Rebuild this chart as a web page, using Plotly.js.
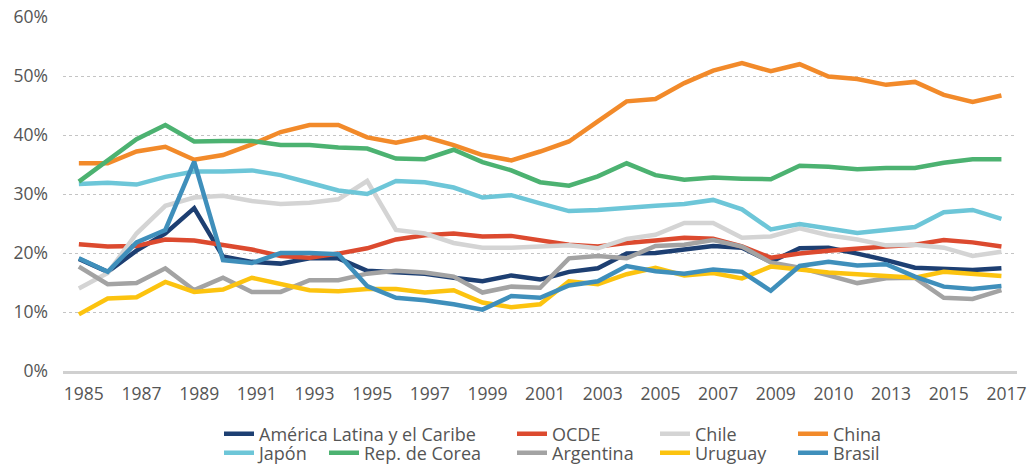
<!DOCTYPE html>
<html>
<head>
<meta charset="utf-8">
<script src="https://cdn.plot.ly/plotly-3.0.1.min.js"></script>
<style>html,body{margin:0;padding:0;background:#fff;}#chart{width:1033px;height:467px;}</style>
</head>
<body>
<div id="chart"></div>
<script>
// ---- data ----
const years = [1985,1986,1987,1988,1989,1990,1991,1992,1993,1994,1995,1996,1997,1998,1999,2000,2001,2002,2003,2004,2005,2006,2007,2008,2009,2010,2011,2012,2013,2014,2015,2016,2017];
const tickYears = [1985,1987,1989,1991,1993,1995,1997,1999,2001,2003,2005,2007,2009,2011,2013,2015,2017];
const tickLabels = ["1985","1987","1989","1991","1993","1995","1997","1999","2001","2003","2005","2007","2009","2010","2013","2015","2017"];
const yTickValues = [0,10,20,30,40,50,60];
const yTickLabels = ["0%","10%","20%","30%","40%","50%","60%"];

const seriesNames = ["América Latina y el Caribe","OCDE","Chile","China","Japón","Rep. de Corea","Argentina","Uruguay","Brasil"];

const alc       = [19.0,16.8,20.4,23.3,27.6,19.4,18.5,18.2,19.1,19.1,17.0,16.8,16.5,15.8,15.2,16.2,15.5,16.8,17.4,19.9,20.0,20.6,21.2,20.9,18.5,20.8,20.9,19.9,18.8,17.5,17.3,17.1,17.4];
const ocde      = [21.5,21.1,21.2,22.3,22.1,21.4,20.6,19.5,19.2,19.9,20.8,22.3,23.0,23.3,22.8,22.9,22.2,21.4,21.1,21.7,22.1,22.6,22.4,21.1,19.2,19.9,20.4,20.8,21.1,21.4,22.2,21.8,21.1];
const chile     = [14.0,16.6,23.3,28.0,29.4,29.7,28.8,28.3,28.5,29.1,32.2,23.9,23.3,21.7,20.9,20.9,21.1,21.3,20.8,22.4,23.1,25.1,25.1,22.6,22.8,24.2,23.0,22.3,21.3,21.4,20.9,19.5,20.2];
const china     = [35.2,35.2,37.2,38.0,35.8,36.6,38.4,40.5,41.7,41.7,39.6,38.7,39.7,38.3,36.6,35.7,37.2,38.9,42.3,45.7,46.1,48.8,50.9,52.2,50.8,52.0,49.9,49.5,48.5,49.0,46.8,45.6,46.7];
const japon     = [31.7,31.9,31.6,32.9,33.8,33.8,34.0,33.2,31.9,30.6,30.0,32.2,32.0,31.1,29.4,29.8,28.4,27.1,27.3,27.7,28.0,28.3,29.0,27.4,24.0,24.9,24.1,23.4,23.9,24.4,26.9,27.3,25.8];
const corea     = [32.1,35.8,39.3,41.7,38.9,39.0,39.0,38.3,38.3,37.9,37.7,36.0,35.9,37.5,35.4,34.0,32.0,31.4,33.0,35.2,33.2,32.4,32.8,32.6,32.5,34.8,34.6,34.2,34.4,34.4,35.3,35.9,35.9];
const argentina = [17.7,14.7,14.9,17.4,13.7,15.8,13.4,13.4,15.4,15.4,16.5,17.0,16.7,16.0,13.3,14.3,14.1,19.1,19.5,19.1,21.2,21.4,22.2,21.1,18.4,17.5,16.2,14.9,15.7,15.8,12.4,12.2,13.7];
const uruguay   = [9.6,12.3,12.5,15.1,13.4,13.8,15.8,14.7,13.7,13.5,13.9,13.9,13.3,13.7,11.6,10.8,11.3,15.2,14.7,16.4,17.5,16.2,16.6,15.7,17.7,17.2,16.7,16.4,16.1,15.8,16.8,16.5,16.1];
const brasil    = [19.1,16.8,21.8,23.9,35.5,18.8,18.3,20.0,20.0,19.8,14.4,12.4,12.0,11.3,10.4,12.7,12.4,14.5,15.2,17.8,16.9,16.5,17.2,16.8,13.6,17.8,18.5,17.9,18.1,16.0,14.3,13.9,14.4];

const seriesValues = [alc, ocde, chile, china, japon, corea, argentina, uruguay, brasil];
const seriesColors = ["#1d3f72","#dc4a2f","#d4d4d4","#f28a2a","#6dc6d8","#4cb271","#a3a3a3","#fcc30f","#3f8fbb"];

// ---- layout geometry ----
const W = 1033, H = 467;
const M = {l: 63, r: 16, t: 17, b: 96, autoexpand: false};
const plotW = W - M.l - M.r, plotH = H - M.t - M.b;
const px2paperX = p => (p - M.l) / plotW;
const px2paperY = p => (H - M.b - p) / plotH;

// legend slot per series: [text-left px, row-center px]
const legendSlots = [[259,434],[552,434],[695,434],[833,434],[259,453],[364,453],[552,453],[695,453],[833,453]];
const textFont = {family: "Open Sans, Noto Sans, sans-serif", color: "#555555"};

const traces = seriesNames.map((name, i) => ({
  type: "scatter", mode: "lines", name: name,
  x: years, y: seriesValues[i],
  line: {color: seriesColors[i], width: 4.5},
  legend: i === 0 ? "legend" : "legend" + (i + 1),
  hoverinfo: "x+y+name"
}));

const layout = {
  width: W, height: H,
  margin: M,
  paper_bgcolor: "#ffffff", plot_bgcolor: "#ffffff",
  showlegend: true,
  xaxis: {
    range: [1984.45, 2017.54], tickmode: "array", tickvals: tickYears, ticktext: tickLabels,
    showgrid: false, zeroline: false, showline: true, linecolor: "#d0d0d0", linewidth: 3,
    ticks: "", ticklabelstandoff: 5, ticklabelshift: 5,
    tickfont: Object.assign({size: 17.5}, textFont), fixedrange: true, automargin: false
  },
  yaxis: {
    range: [0, 60], tickmode: "array", tickvals: yTickValues, ticktext: yTickLabels,
    showgrid: true, gridcolor: "#c4c4c4", griddash: "dot", gridwidth: 1,
    zeroline: false, showline: false, ticks: "", ticklabelstandoff: 14,
    tickfont: Object.assign({size: 17.5}, textFont), fixedrange: true, automargin: false
  }
};

legendSlots.forEach((s, i) => {
  const key = i === 0 ? "legend" : "legend" + (i + 1);
  layout[key] = {
    x: px2paperX(s[0] - 40), y: px2paperY(s[1]),
    xanchor: "left", yanchor: "middle",
    orientation: "v", bgcolor: "rgba(0,0,0,0)", borderwidth: 0,
    font: Object.assign({size: 18}, textFont), itemclick: false, itemdoubleclick: false
  };
});

Plotly.newPlot("chart", traces, layout, {displayModeBar: false, staticPlot: true});
</script>
</body>
</html>
